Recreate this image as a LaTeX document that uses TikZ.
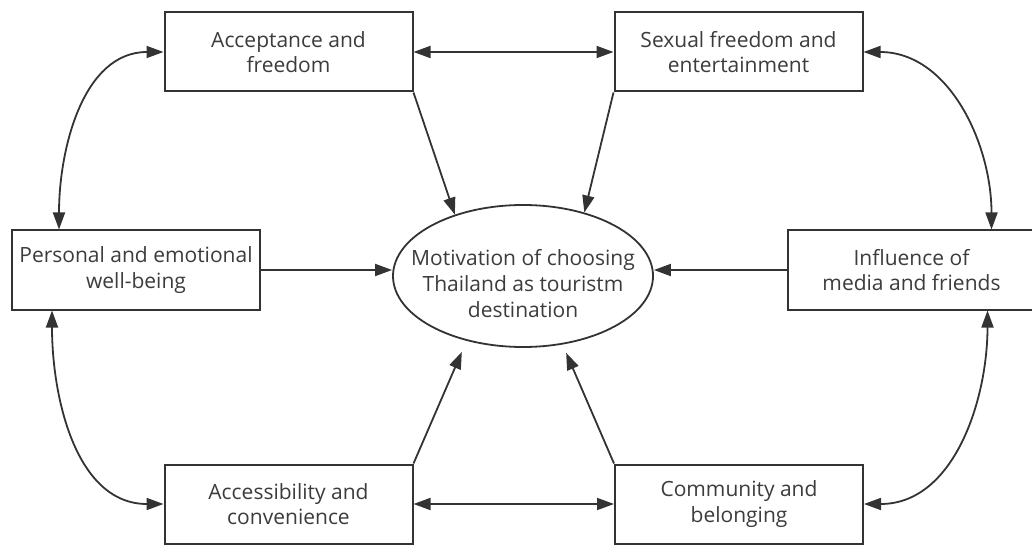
\documentclass[tikz,border=0pt]{standalone}
\usepackage{fontspec}
\setmainfont{Open Sans}
\usepackage{tikz}
\usetikzlibrary{arrows.meta,calc,shapes.geometric}
\definecolor{inkgray}{HTML}{333333}
\definecolor{txtgray}{HTML}{3C3C3C}
\newcommand{\goaltext}[1]{\raisebox{0pt}[\dimexpr\height+20pt\relax][\depth]{%
  \begin{tabular}{@{}c@{}}#1\end{tabular}}}
\tikzset{
  factor/.style={draw=inkgray,line width=2pt,rectangle,minimum width=248pt,
    minimum height=79pt,align=center,text=txtgray,inner sep=0pt,
    font=\fontsize{21}{25.5}\selectfont},
  goal/.style={draw=inkgray,line width=1.8pt,ellipse,minimum width=260pt,
    minimum height=142pt,text=txtgray,inner xsep=-25pt,inner ysep=0pt,
    font=\fontsize{21}{26}\selectfont},
  link/.style={draw=inkgray,line width=1.8pt,
    -{Triangle[length=17pt,width=12pt]}},
  twoway/.style={link,{Triangle[length=17pt,width=12pt]}-{Triangle[length=17pt,width=12pt]}}
}

\begin{document}
\begin{tikzpicture}[x=1pt,y=-1pt]
    \useasboundingbox[fill=white] (0,0) rectangle (1032,545);

    % the six factors round the goal
    \node[factor] (accept) at (288.5,52) {Acceptance and\\freedom};
    \node[factor] (sexual) at (738.5,52) {Sexual freedom and\\entertainment};
    \node[factor] (personal) at (136,270) {Personal and emotional\\well-being};
    \node[factor] (influence) at (911.5,270) {Influence of\\media and friends};
    \node[factor] (access) at (288.5,504) {Accessibility and\\convenience};
    \node[factor] (commun) at (739,504) {Community and\\belonging};

    \node[goal] (motive) at (523,276)
      {\goaltext{Motivation of choosing\\Thailand as touristm\\destination}};

    % arrows into the goal
    \draw[link] (accept.south east) -- (motive.138.3);
    \draw[link] (sexual.south west) -- (motive.46.4);
    \draw[link] (personal.east) -- (motive.west |- personal.east);
    \draw[link] (influence.west) -- (motive.east |- influence.west);
    \draw[link,shorten >=12pt] (access.north east) -- (motive.229.6);
    \draw[link,shorten >=9pt] (commun.north west) -- (motive.300.9);

    % links between factors
    \draw[twoway] (accept.east) -- (sexual.west);
    \draw[twoway] (access.east) -- (commun.west);
    \draw[twoway] (accept.west) to[out=180,in=90] ([xshift=48]personal.north west);
    \draw[twoway] (sexual.east) to[out=0,in=90] ([xshift=-45]influence.north east);
    \draw[twoway] ([xshift=41]personal.south west) to[out=-90,in=180] (access.west);
    \draw[twoway] ([xshift=-49]influence.south east) to[out=-90,in=0] (commun.east);
\end{tikzpicture}
\end{document}
